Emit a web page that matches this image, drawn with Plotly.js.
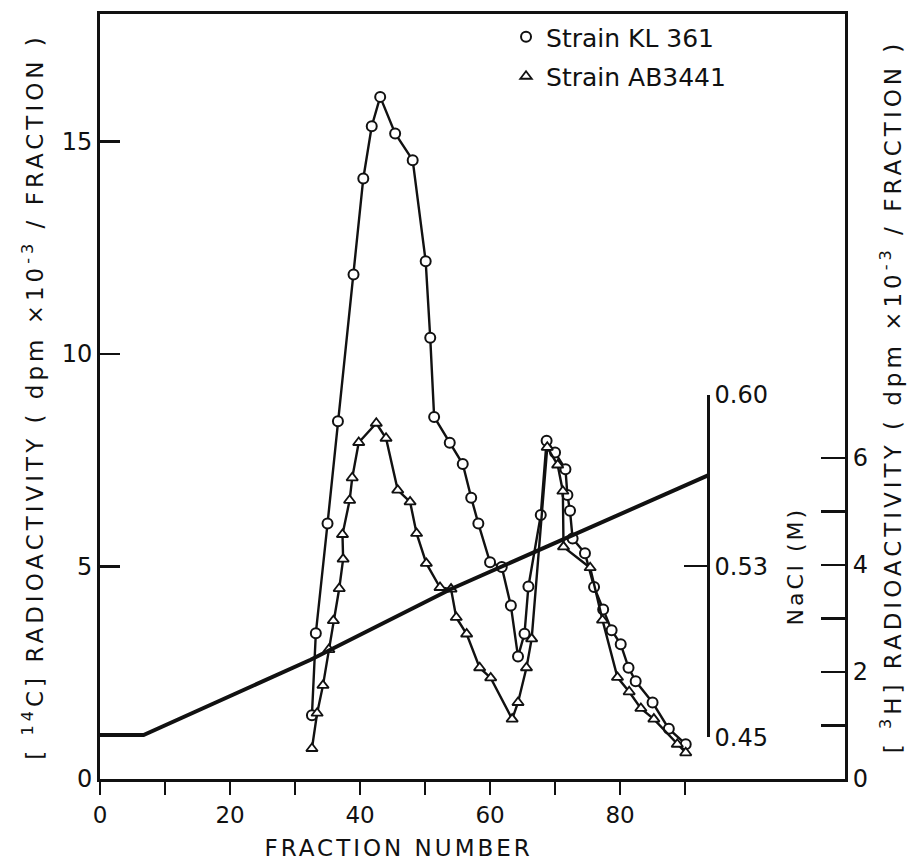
<!DOCTYPE html>
<html>
<head>
<meta charset="utf-8">
<script src="https://cdn.plot.ly/plotly-3.0.1.min.js"></script>
<style>html,body{margin:0;padding:0;background:#fff;}</style>
</head>
<body>
<div id="chart" style="width:917px;height:863px;"></div>
<script>
// Strain KL 361 (open circles), [14C] radioactivity
const kl361X = [32.6, 33.2, 35.0, 36.6, 39.0, 40.5, 41.8, 43.1, 45.4, 48.1, 50.1, 50.8, 51.4, 53.8, 55.8, 57.1, 58.2, 60.0, 61.8, 63.2, 64.3, 65.3, 65.9, 67.8, 68.7, 70.0, 71.6, 71.9, 72.3, 72.7, 74.6, 76.0, 77.4, 78.7, 80.1, 81.3, 82.4, 85.0, 87.5, 90.1];
const kl361Y = [1.50, 3.43, 6.01, 8.42, 11.87, 14.13, 15.36, 16.05, 15.19, 14.56, 12.18, 10.38, 8.52, 7.91, 7.41, 6.62, 6.01, 5.10, 4.99, 4.08, 2.88, 3.42, 4.53, 6.21, 7.96, 7.68, 7.29, 6.68, 6.31, 5.66, 5.31, 4.52, 3.99, 3.50, 3.17, 2.62, 2.30, 1.80, 1.18, 0.82];

// Strain AB3441 (open triangles), [3H] radioactivity
const ab3441X = [32.6, 33.4, 34.3, 35.2, 35.9, 36.8, 37.4, 37.3, 38.4, 38.8, 39.8, 42.5, 44.0, 45.8, 47.7, 48.7, 50.2, 52.3, 54.0, 54.8, 56.4, 58.4, 60.1, 63.4, 64.3, 65.6, 66.4, 68.8, 70.4, 71.2, 71.3, 75.4, 77.3, 79.6, 81.4, 83.2, 85.2, 88.8, 90.1];
const ab3441Y = [0.57, 1.23, 1.75, 2.42, 2.96, 3.56, 4.11, 4.57, 5.21, 5.63, 6.29, 6.65, 6.37, 5.40, 5.18, 4.59, 4.03, 3.58, 3.55, 3.02, 2.71, 2.08, 1.89, 1.12, 1.43, 2.08, 2.62, 6.20, 5.87, 5.38, 4.34, 3.95, 2.97, 1.90, 1.63, 1.32, 1.12, 0.65, 0.49];

// NaCl gradient (M)
const naclX = [0, 6.7, 32.4, 54.0, 93.7];
const naclY = [0.451, 0.451, 0.484, 0.515, 0.565];

// Tick labels
const xTickVals = [0, 20, 40, 60, 80];
const xTickText = ['0', '20', '40', '60', '80'];
const xMinorVals = [10, 30, 50, 70, 90];
const y1TickVals = [0, 5, 10, 15];
const y1TickText = ['0', '5', '10', '15'];
const y2TickVals = [0, 2, 4, 6];
const y2TickText = ['0', '2', '4', '6'];
const y2MinorVals = [1, 3, 5];
const naclTickVals = [0.45, 0.525, 0.60];
const naclTickText = ['0.45', '0.53', '0.60'];

const FONT = 'DejaVu Sans, Liberation Sans, sans-serif';
const INK = '#111';

const traces = [
  {x: naclX, y: naclY, xaxis: 'x', yaxis: 'y3', mode: 'lines', showlegend: false,
   line: {color: INK, width: 4}, hoverinfo: 'skip'},
  {x: kl361X, y: kl361Y, xaxis: 'x', yaxis: 'y', mode: 'lines', showlegend: false,
   line: {color: INK, width: 2.4}},
  {x: ab3441X, y: ab3441Y, xaxis: 'x', yaxis: 'y2', mode: 'lines', showlegend: false,
   line: {color: INK, width: 2.4}},
  {x: kl361X, y: kl361Y, xaxis: 'x', yaxis: 'y', mode: 'markers', name: 'Strain KL 361',
   legendgroup: 'a',
   marker: {symbol: 'circle', size: 10, color: '#fff', line: {color: INK, width: 2}}},
  {x: ab3441X, y: ab3441Y, xaxis: 'x', yaxis: 'y2', mode: 'markers', name: 'Strain AB3441',
   legendgroup: 'b',
   marker: {symbol: 'triangle-up', size: 10, color: '#fff', line: {color: INK, width: 1.8}}}
];

const layout = {
  width: 917, height: 863,
  margin: {l: 100, r: 72, t: 14, b: 84},
  paper_bgcolor: '#fff', plot_bgcolor: 'rgba(0,0,0,0)',
  font: {family: FONT, color: INK, size: 24},
  showlegend: true,
  legend: {x: 0.545, y: 1.0, xanchor: 'left', yanchor: 'top', bgcolor: 'rgba(0,0,0,0)',
           font: {family: FONT, size: 25, color: INK}, tracegroupgap: 4, itemwidth: 30},
  xaxis: {range: [0, 114.6], tickmode: 'array', tickvals: xTickVals, ticktext: xTickText,
          ticks: 'outside', ticklen: 13, tickwidth: 2.5, tickcolor: INK,
          minor: {tickvals: xMinorVals, ticks: 'outside', ticklen: 13, tickwidth: 2.5, tickcolor: INK, showgrid: false},
          showline: true, linewidth: 3, linecolor: INK, mirror: true,
          showgrid: false, zeroline: false, tickfont: {size: 23}},
  yaxis: {range: [0, 18], tickmode: 'array', tickvals: y1TickVals, ticktext: y1TickText,
          ticks: 'inside', ticklen: 20, tickwidth: 2.5, tickcolor: INK,
          showline: true, linewidth: 3, linecolor: INK,
          showgrid: false, zeroline: false, tickfont: {size: 24},
          title: {text: '[ <sup>14</sup>C] RADIOACTIVITY ( dpm ×10<sup>-3</sup> / FRACTION )',
                  font: {size: 23}, standoff: 12}},
  yaxis2: {overlaying: 'y', side: 'right', range: [0, 14.3], tickmode: 'array',
           tickvals: y2TickVals, ticktext: y2TickText,
           ticks: 'inside', ticklen: 24, tickwidth: 2.5, tickcolor: INK,
           minor: {tickvals: y2MinorVals, ticks: 'inside', ticklen: 24, tickwidth: 2.5, tickcolor: INK, showgrid: false},
           showline: true, linewidth: 3, linecolor: INK,
           showgrid: false, zeroline: false, tickfont: {size: 24},
           title: {text: '[ <sup>3</sup>H] RADIOACTIVITY ( dpm ×10<sup>-3</sup> / FRACTION )',
                   font: {size: 23}, standoff: 18}},
  yaxis3: {domain: [0.0545, 0.502], anchor: 'free', position: 0.8165, side: 'right',
           range: [0.45, 0.60], tickmode: 'array', tickvals: naclTickVals, ticktext: naclTickText,
           ticks: 'inside', ticklen: 23, tickwidth: 2.5, tickcolor: INK,
           showline: true, linewidth: 2.5, linecolor: INK,
           showgrid: false, zeroline: false, tickfont: {size: 24},
           title: {text: 'NaCl (M)', font: {size: 22}, standoff: 20}},
  annotations: [
    {text: 'FRACTION NUMBER', xref: 'paper', yref: 'paper', x: 0.4, y: -0.09,
     xanchor: 'center', yanchor: 'middle', showarrow: false, font: {size: 23, family: FONT}}
  ]
};

Plotly.newPlot('chart', traces, layout, {displayModeBar: false, staticPlot: true}).then(function (gd) {
  // widen the letter spacing of the titles, as in the original typesetting
  gd.querySelectorAll('.ytitle, .y2title').forEach(function (t) {
    t.style.letterSpacing = '4px';
  });
  gd.querySelectorAll('.y3title').forEach(function (t) {
    t.style.letterSpacing = '3px';
  });
  gd.querySelectorAll('.annotation-text').forEach(function (t) {
    t.style.letterSpacing = '3px';
  });
});
</script>
</body>
</html>
